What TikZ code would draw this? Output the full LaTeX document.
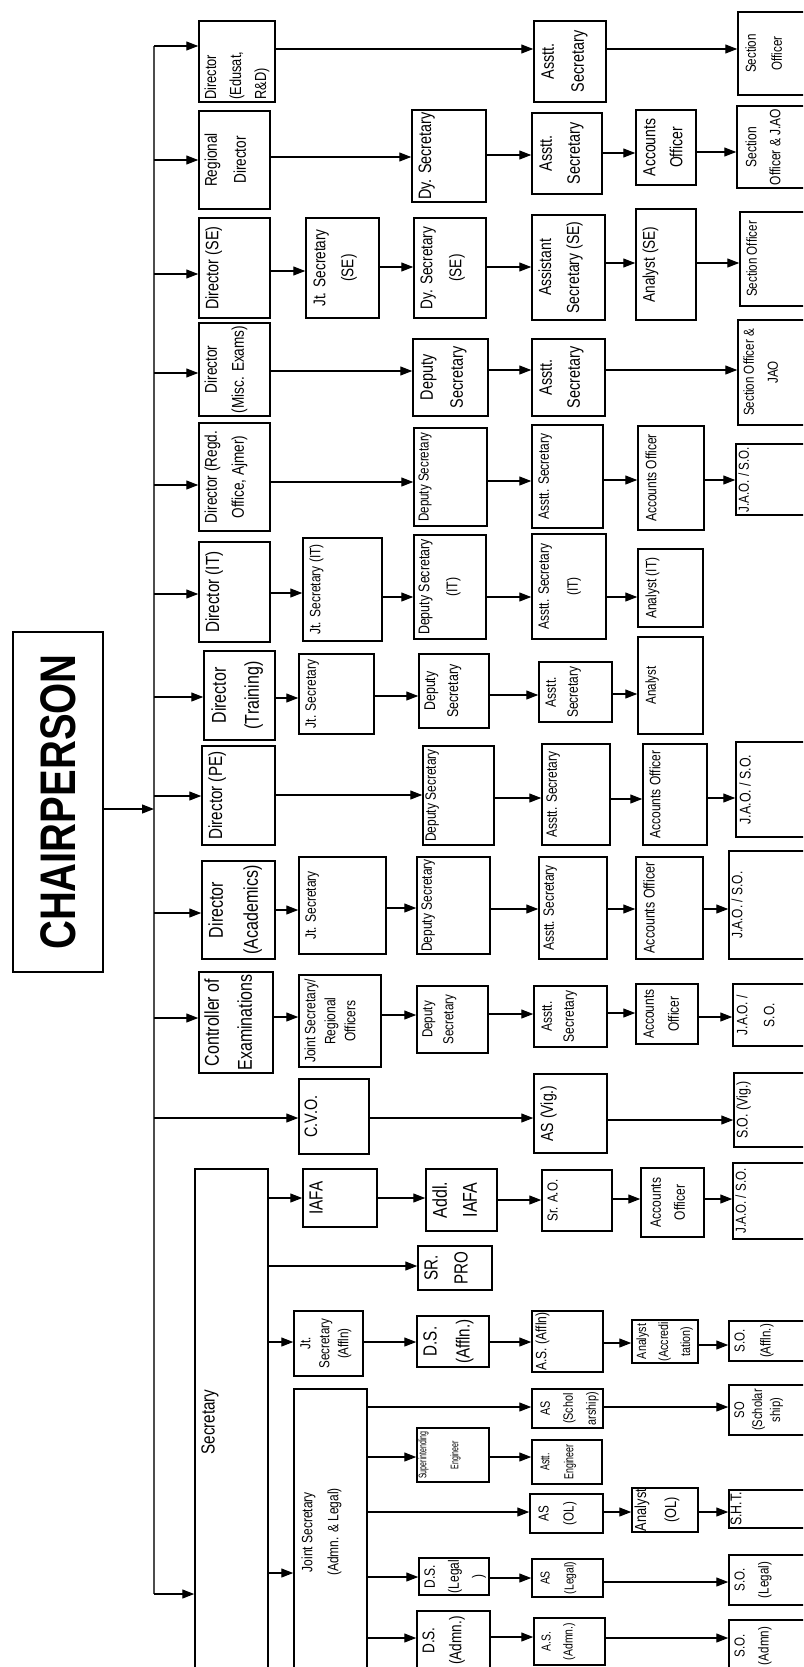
\documentclass[tikz,border=0pt]{standalone}
\usepackage{fontspec}
\setmainfont{Liberation Sans}[FakeStretch=0.8]
\usepackage{graphicx}
\usetikzlibrary{arrows.meta}
\newcommand\myfs[2]{\fontsize{#1}{#2}\selectfont}
% box with centred (rotated) text whose top edge sits #1 pt right of the box's left side
\newcommand\bx[9][5]{%
  \node[box, minimum width={(#5)-(#3)}, minimum height={(#6)-(#4)}] (#2) at ({((#3)+(#5))/2},{((#4)+(#6))/2}) {};
  \node[txt, font=\myfs{#7}{#8}] (#2-t) at ([xshift=#1]#2.west) {#9};
}
% box with left-aligned rotated text starting at the box's bottom
\newcommand\bxL[9][5]{%
  \node[box, minimum width={(#5)-(#3)}, minimum height={(#6)-(#4)}] (#2) at ({((#3)+(#5))/2},{((#4)+(#6))/2}) {};
  \node[txt, anchor=north west, align=left, font=\myfs{#7}{#8}] (#2-t) at ([shift={(#1,-3)}]#2.south west) {#9};
}
\newcommand\cn[3]{\draw[arr] (#1.east |- 0,#3) -- (#2.west |- 0,#3);}
\tikzset{
  box/.style={draw, line width=1.5pt, inner sep=0pt},
  txt/.style={rotate=90, anchor=north, align=center, inner sep=0pt},
  arr/.style={line width=1.2pt, -{Triangle[length=12pt,width=9pt]}},
  busline/.style={line width=2pt, black!70}
}
\begin{document}
\begin{tikzpicture}[x=1pt,y=-1pt]
\useasboundingbox (0,0) rectangle (803,1667);
\clip (0,0) rectangle (803,1667);

% Chairperson
\node[box, line width=2pt, minimum width=90, minimum height=340] (chair) at (58,802) {};
\node[rotate=90, inner sep=0pt, font=\bfseries\myfs{50}{50}] (chair-t) at (chair) {CHAIRPERSON};

% column 1
\bxL[6]{dEdu}{199}{21}{275}{102}{16}{25}{Director\\(Edusat,\\R\&D)}
\bx[6]{dRD}{199}{111}{270}{209}{17}{29}{Regional\\Director}
\bx[7]{dSE}{199}{218}{270}{318}{18}{22}{Director (SE)}
\bx[6]{dMisc}{199}{323}{270}{416}{17}{27}{Director\\(Misc. Exams)}
\bx[6]{dRegd}{199}{423}{270}{531}{17}{27}{Director (Regd.\\Office, Ajmer)}
\bx[7]{dIT}{199}{542}{270}{642}{19}{22}{Director (IT)}
\bx[8]{dTr}{204}{651}{275}{740}{20}{33}{Director\\(Training)}
\bx[7]{dPE}{202}{746}{275}{845}{19}{22}{Director (PE)}
\bx[7]{dAc}{202}{861}{275}{959}{20}{35}{Director\\(Academics)}
\bx[6]{dCoE}{199}{972}{273}{1073}{20}{33}{Controller of\\Examinations}
\bx[6]{cvo}{299}{1079}{369}{1154}{18}{22}{C.V.O.}
\bx[7]{sec}{195}{1169}{268}{1675}{19}{22}{Secretary}

% column 2
\bx[8]{jsSE}{306}{218}{379}{318}{17}{28}{Jt. Secretary\\(SE)}
\bx[7]{jsIT}{303}{538}{382}{641}{15}{20}{Jt. Secretary (IT)}
\bx[7]{jsTr}{299}{654}{374}{734}{15}{20}{Jt. Secretary}
\bx[7]{jsAc}{299}{857}{386}{954}{15}{20}{Jt. Secretary}
\bx[6]{jsCoE}{299}{975}{381}{1067}{15}{20}{Joint Secretary/\\Regional\\Officers}
\bx[7]{iafa}{303}{1169}{377}{1227}{19}{22}{IAFA}
\bx[7]{jsAf}{294}{1311}{363}{1376}{14.5}{19}{Jt.\\Secretary\\(Affln)}
\bx[8]{jsAL}{294}{1389}{367}{1675}{15}{26}{Joint Secretary\\(Admn. \& Legal)}

% column 3
\bx[7]{dyRD}{412}{110}{486}{202}{18}{22}{Dy. Secretary}
\bx[7]{dySE}{414}{218}{486}{318}{17}{29}{Dy. Secretary\\(SE)}
\bx[8]{dyMisc}{413}{339}{488}{416}{18}{30}{Deputy\\Secretary}
\bx[5]{dyRegd}{414}{428}{487}{526}{14.5}{20}{Deputy Secretary}
\bx[5]{dyIT}{414}{535}{486}{639}{15.5}{28}{Deputy Secretary\\(IT)}
\bx[6]{dyTr}{419}{654}{489}{728}{15.5}{23}{Deputy\\Secretary}
\bx[3]{dyPE}{423}{746}{494}{845}{15}{20}{Deputy Secretary}
\bx[5]{dyAc}{417}{857}{490}{954}{15}{20}{Deputy Secretary}
\bx[6]{dyCoE}{417}{986}{488}{1053}{14.5}{21}{Deputy\\Secretary}
\bx[7]{addl}{426}{1169}{497}{1231}{20}{30}{Addl.\\IAFA}
\bx[7]{srpro}{418}{1246}{492}{1290}{19}{30}{SR.\\PRO}
\bx[7]{dsAf}{417}{1316}{489}{1367}{19}{33}{D.S.\\(Affln.)}
\bx[2]{supEng}{417}{1428}{489}{1482}{11}{32}{\scalebox{0.8}[1]{Superintending}\\\scalebox{0.8}[1]{Engineer}}
\bx[6]{dsL}{419}{1558}{489}{1595}{15}{24}{D.S.\\(Legal\\)}
\bx[6]{dsAd}{417}{1611}{490}{1670}{17}{27}{D.S.\\(Admn.)}

% column 4
\bx[8]{asEdu}{534}{21}{606}{102}{18}{30}{Asstt.\\Secretary}
\bx[8]{asRD}{532}{113}{602}{194}{18}{28}{Asstt.\\Secretary}
\bx[7]{asSE}{532}{215}{605}{320}{17.5}{28}{Assistant\\Secretary (SE)}
\bx[8]{asMisc}{532}{339}{605}{416}{18}{28}{Asstt.\\Secretary}
\bx[7]{asRegd}{532}{425}{603}{528}{15}{20}{Asstt. Secretary}
\bx[7]{asIT}{532}{534}{606}{639}{15}{29}{Asstt. Secretary\\(IT)}
\bx[7]{asTr}{539}{662}{612}{722}{15}{22}{Asstt.\\Secretary}
\bx[5]{asPE}{542}{744}{610}{845}{15}{20}{Asstt. Secretary}
\bx[5]{asAc}{539}{857}{607}{959}{15}{20}{Asstt. Secretary}
\bx[8]{asCoE}{534}{986}{607}{1047}{15}{22}{Asstt.\\Secretary}
\bx[7]{asVig}{534}{1074}{607}{1153}{17.5}{22}{AS (Vig.)}
\bx[6]{srao}{542}{1170}{612}{1231}{14.5}{20}{Sr. A.O.}
\bx[4]{asAf}{532}{1311}{603}{1372}{15}{20}{A.S. (Affln)}
\bx[9]{asSch}{532}{1389}{603}{1428}{13.5}{23}{AS\\(Schol\\arship)}
\bx[9]{astEng}{532}{1440}{602}{1484}{13}{24}{\scalebox{0.85}[1]{Astt.}\\\scalebox{0.85}[1]{Engineer}}
\bx[9]{asOL}{530}{1494}{603}{1533}{14.5}{25}{AS\\(OL)}
\bx[9]{asL}{532}{1559}{603}{1597}{13}{24}{AS\\(Legal)}
\bx[8]{asAd}{534}{1618}{605}{1665}{13}{22}{A.S.\\(Admn.)}

% column 5
\bx[8]{aoRD}{636}{110}{696}{185}{17.5}{27}{Accounts\\Officer}
\bx[7]{anSE}{636}{209}{696}{320}{17}{22}{Analyst (SE)}
\bx[8]{aoRegd}{638}{426}{704}{530}{15}{20}{Accounts Officer}
\bx[8]{anIT}{638}{549}{703}{627}{15}{20}{Analyst (IT)}
\bx[8]{anTr}{638}{637}{703}{734}{14.5}{20}{Analyst}
\bx[7]{aoPE}{643}{744}{707}{845}{15}{20}{Accounts Officer}
\bx[8]{aoAc}{636}{857}{703}{959}{15.5}{20}{Accounts Officer}
\bx[8]{aoCoE}{636}{984}{698}{1044}{15}{25}{Accounts\\Officer}
\bx[10]{aoIAFA}{641}{1168}{704}{1237}{15}{24}{Accounts\\Officer}
\bx[5]{anAc}{632}{1320}{698}{1363}{13.4}{22}{Analyst\\(Accredi\\tation)}
\bx[3]{anOL}{632}{1488}{698}{1532}{16}{30}{Analyst\\(OL)}

% column 6
\bx[8]{soEdu}{738}{12}{810}{95}{14.5}{26}{Section\\Officer}
\bx[9]{soRD}{737}{106}{810}{188}{15}{24}{Section\\Officer \& J.AO}
\bx[7]{soSE}{740}{212}{810}{306}{14.5}{20}{Section Officer}
\bx[6]{soMisc}{738}{320}{810}{425}{14.5}{24}{Section Officer \&\\JAO}
\bx[3]{jaoRegd}{736}{444}{810}{515}{14.5}{20}{J.A.O. / S.O.}
\bx[4]{jaoPE}{736}{742}{810}{837}{15.5}{20}{J.A.O. / S.O.}
\bx[3]{jaoAc}{729}{851}{810}{959}{15}{20}{J.A.O. / S.O.}
\bx[4]{jaoCoE}{733}{984}{810}{1046}{15}{27}{J.A.O. /\\S.O.}
\bx[3]{soVig}{734}{1073}{810}{1147}{15.5}{20}{S.O. (Vig.)}
\bx[3]{jaoIAFA}{733}{1163}{810}{1239}{14.5}{20}{J.A.O. / S.O.}
\bx[6]{soAf}{729}{1321}{810}{1361}{14.5}{26}{S.O.\\(Affln.)}
\bx[6]{soSch}{729}{1385}{810}{1435}{14}{18}{SO\\(Scholar\\ship)}
\bx[2]{sht}{729}{1490}{810}{1528}{15.5}{20}{S.H.T.}
\bx[6]{soL}{729}{1555}{810}{1605}{14.5}{24}{S.O.\\(Legal)}
\bx[6]{soAd}{729}{1620}{810}{1672}{14.5}{24}{S.O.\\(Admn)}

% main bus
\coordinate (busTop) at (154,46);
\coordinate (busBot) at (154,1594);
\draw[busline] (busTop) -- (busBot);
\draw[arr] (chair.east |- 0,809) -- (busTop |- 0,809);
\draw[arr] (busBot) -- (sec.west |- busBot);
\foreach \n/\y in {dEdu/46, dRD/160, dSE/274, dMisc/373, dRegd/485, dIT/594, dTr/697, dPE/796, dAc/913, dCoE/1018, cvo/1118}
  \draw[arr] (busTop |- 0,\y) -- (\n.west |- 0,\y);

% rows
\cn{dEdu}{asEdu}{49} \cn{asEdu}{soEdu}{49}
\cn{dRD}{dyRD}{157} \cn{dyRD}{asRD}{155} \cn{asRD}{aoRD}{153} \cn{aoRD}{soRD}{152}
\cn{dSE}{jsSE}{271} \cn{jsSE}{dySE}{267} \cn{dySE}{asSE}{267} \cn{asSE}{anSE}{263} \cn{anSE}{soSE}{263}
\cn{dMisc}{dyMisc}{371} \cn{dyMisc}{asMisc}{370} \cn{asMisc}{soMisc}{370}
\cn{dRegd}{dyRegd}{482} \cn{dyRegd}{asRegd}{481} \cn{asRegd}{aoRegd}{480} \cn{aoRegd}{jaoRegd}{480}
\cn{dIT}{jsIT}{593} \cn{jsIT}{dyIT}{597} \cn{dyIT}{asIT}{597} \cn{asIT}{anIT}{597}
\cn{dTr}{jsTr}{698} \cn{jsTr}{dyTr}{696} \cn{dyTr}{asTr}{695} \cn{asTr}{anTr}{694}
\cn{dPE}{dyPE}{795} \cn{dyPE}{asPE}{798} \cn{asPE}{aoPE}{799} \cn{aoPE}{jaoPE}{798}
\cn{dAc}{jsAc}{910} \cn{jsAc}{dyAc}{908} \cn{dyAc}{asAc}{909} \cn{asAc}{aoAc}{909} \cn{aoAc}{jaoAc}{909}
\cn{dCoE}{jsCoE}{1017} \cn{jsCoE}{dyCoE}{1015} \cn{dyCoE}{asCoE}{1014} \cn{asCoE}{aoCoE}{1013} \cn{aoCoE}{jaoCoE}{1017}
\cn{cvo}{asVig}{1118} \cn{asVig}{soVig}{1120}
\cn{sec}{iafa}{1198} \cn{iafa}{addl}{1198} \cn{addl}{srao}{1200} \cn{srao}{aoIAFA}{1199} \cn{aoIAFA}{jaoIAFA}{1199}
\cn{sec}{srpro}{1266}
\cn{sec}{jsAf}{1342} \cn{jsAf}{dsAf}{1342} \cn{dsAf}{asAf}{1342} \cn{asAf}{anAc}{1343} \cn{anAc}{soAf}{1345}
\cn{sec}{jsAL}{1573}
\cn{jsAL}{asSch}{1407} \cn{asSch}{soSch}{1407}
\cn{jsAL}{supEng}{1457} \cn{supEng}{astEng}{1457}
\cn{jsAL}{asOL}{1512} \cn{asOL}{anOL}{1512} \cn{anOL}{sht}{1512}
\cn{jsAL}{dsL}{1577} \cn{dsL}{asL}{1578} \cn{asL}{soL}{1582}
\cn{jsAL}{dsAd}{1638} \cn{dsAd}{asAd}{1637} \cn{asAd}{soAd}{1638}
\end{tikzpicture}
\end{document}
